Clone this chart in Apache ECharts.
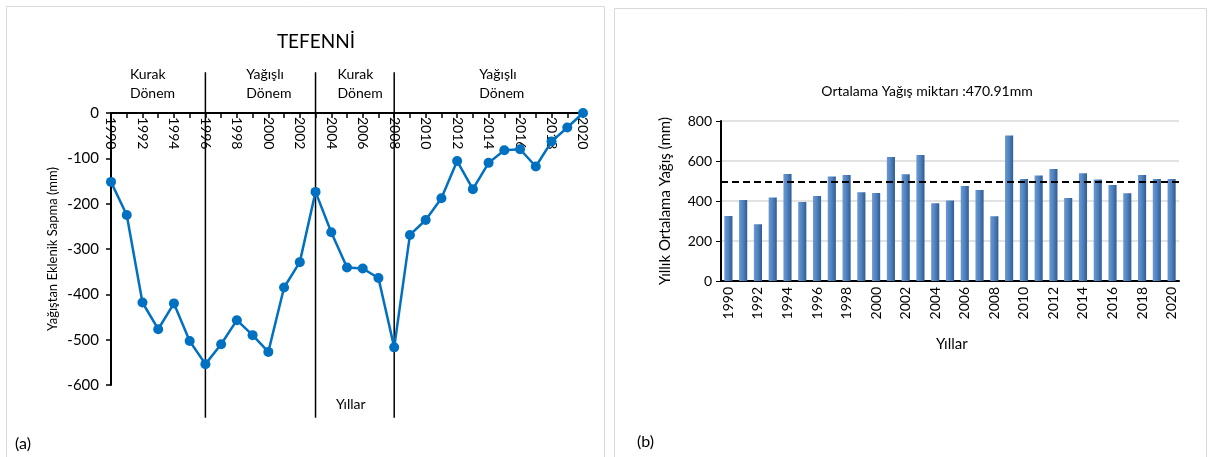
<!DOCTYPE html>
<html>
<head>
<meta charset="utf-8">
<script src="https://cdn.jsdelivr.net/npm/echarts@6/dist/echarts.min.js"></script>
<style>
html, body { margin: 0; background: #fff; }
#main { width: 1211px; height: 457px; }
</style>
</head>
<body>
<div id="main"></div>
<script>
// yillar
var years = [1990, 1991, 1992, 1993, 1994, 1995, 1996, 1997, 1998, 1999, 2000,
	2001, 2002, 2003, 2004, 2005, 2006, 2007, 2008, 2009, 2010,
	2011, 2012, 2013, 2014, 2015, 2016, 2017, 2018, 2019, 2020];
// (a) eklenik sapma (mm)
var sapma = [-152, -225, -418, -477, -420, -503, -554, -510, -457, -490, -527,
	-385, -329, -174, -263, -341, -343, -364, -517, -269, -236,
	-188, -106, -168, -110, -82, -80, -118, -63, -32, 0];
// (b) yillik ortalama yagis (mm)
var yagis = [325, 405, 284, 417, 535, 395, 425, 522, 530, 444, 440,
	620, 534, 630, 389, 402, 475, 455, 324, 727, 510,
	527, 560, 415, 539, 507, 480, 439, 530, 510, 510];
var ortalama = 498;
// donem sinirlari ve etiketleri
var sinirlar = [1996, 2003, 2008];
var donemler = ['Kurak\nDönem', 'Yağışlı\nDönem', 'Kurak\nDönem', 'Yağışlı\nDönem'];
var donemBas = [1991.2, 1998.6, 2004.4, 2013.4];

var font = 'Lato, "Open Sans", sans-serif';
var chart = echarts.init(document.getElementById('main'));

var sapmaData = years.map(function (y, i) { return [y, sapma[i]]; });
var yilLabels = years.map(function (y) { return String(y); });

function baslik(text, left, top, size, align) {
	return {
		text: text, left: left, top: top, textAlign: align || 'left',
		textStyle: { fontSize: size, fontWeight: 'normal', color: '#000', fontFamily: font }
	};
}

option = {
	backgroundColor: '#fff',
	textStyle: { fontFamily: font },
	title: [
		baslik('TEFENNİ', 311, 27, 19, 'center'),
		baslik('Ortalama Yağış miktarı :470.91mm', 922, 79, 14, 'center'),
		baslik('Yıllar', 331, 392, 14),
		baslik('Yıllar', 931, 332, 15),
		baslik('(a)', 10, 431, 16),
		baslik('(b)', 632, 429, 16)
	],
	graphic: [
		{ type: 'rect', shape: { x: 6.5, y: 6.5, width: 598, height: 460 },
			style: { fill: 'none', stroke: '#d9d9d9', lineWidth: 1 }, silent: true },
		{ type: 'rect', shape: { x: 614.5, y: 8.5, width: 592, height: 460 },
			style: { fill: 'none', stroke: '#d9d9d9', lineWidth: 1 }, silent: true }
	],
	grid: [
		{ left: 111, top: 113, width: 472, height: 272 },
		{ left: 721, top: 121, width: 458, height: 160 }
	],
	xAxis: [
		{
			gridIndex: 0, type: 'value', min: 1990, max: 2020, interval: 2,
			position: 'top',
			axisLine: { onZero: false, lineStyle: { color: '#000', width: 2 } },
			axisTick: { inside: true, length: 5, lineStyle: { color: '#000', width: 1.5 } },
			minorTick: { show: true, splitNumber: 2, length: 5, lineStyle: { color: '#000', width: 1.5 } },
			splitLine: { show: false },
			axisLabel: { inside: true, rotate: 90, fontSize: 14, color: '#000', margin: 4,
				formatter: function (v) { return String(v); } }
		},
		{
			gridIndex: 1, type: 'category', data: yilLabels,
			axisLine: { lineStyle: { color: '#000', width: 2 } },
			axisTick: { interval: 0, length: 5, lineStyle: { color: '#000' } },
			axisLabel: { interval: 1, rotate: 90, fontSize: 14, color: '#000', margin: 6 }
		}
	],
	yAxis: [
		{
			gridIndex: 0, type: 'value', min: -600, max: 0, interval: 100,
			name: 'Yağıştan Eklenik Sapma (mm)', nameLocation: 'middle', nameGap: 52,
			nameTextStyle: { fontSize: 13, color: '#000' },
			axisLine: { show: true, lineStyle: { color: '#000', width: 2 } },
			axisTick: { show: true, length: 5, lineStyle: { color: '#000', width: 1.5 } },
			splitLine: { show: false },
			axisLabel: { fontSize: 15, color: '#000', margin: 12 }
		},
		{
			gridIndex: 1, type: 'value', min: 0, max: 800, interval: 200,
			name: 'Yıllık Ortalama Yağış (mm)', nameLocation: 'middle', nameGap: 48,
			nameTextStyle: { fontSize: 15, color: '#000' },
			axisLine: { show: true, lineStyle: { color: '#000', width: 2 } },
			axisTick: { show: true, length: 5, lineStyle: { color: '#000' } },
			splitLine: { show: true, lineStyle: { color: '#d9d9d9', width: 1.5 } },
			axisLabel: { fontSize: 14, color: '#000', margin: 9 }
		}
	],
	series: [
		{
			type: 'line', xAxisIndex: 0, yAxisIndex: 0,
			data: sapmaData,
			symbol: 'circle', symbolSize: 10,
			lineStyle: { color: '#0070c0', width: 2.5 },
			itemStyle: { color: '#0070c0' },
			clip: false, z: 5
		},
		{
			// donem sinir cizgileri
			type: 'custom', xAxisIndex: 0, yAxisIndex: 0,
			data: sinirlar.map(function (x) { return [x]; }),
			clip: false, silent: true,
			renderItem: function (params, api) {
				var ust = api.coord([api.value(0), 90]);
				var alt = api.coord([api.value(0), -672]);
				return {
					type: 'line',
					shape: { x1: ust[0], y1: ust[1], x2: alt[0], y2: alt[1] },
					style: { stroke: '#000', lineWidth: 1.5 }
				};
			}
		},
		{
			// donem etiketleri
			type: 'custom', xAxisIndex: 0, yAxisIndex: 0,
			data: donemBas.map(function (x, i) { return [x, i]; }),
			clip: false, silent: true,
			renderItem: function (params, api) {
				var p = api.coord([api.value(0), 63]);
				return {
					type: 'text', x: p[0], y: p[1],
					style: {
						text: donemler[api.value(1)], fill: '#000',
						fontSize: 14, fontFamily: font,
						align: 'left', verticalAlign: 'middle', lineHeight: 19
					}
				};
			}
		},
		{
			type: 'bar', xAxisIndex: 1, yAxisIndex: 1,
			data: yagis, barWidth: '55%',
			itemStyle: {
				color: new echarts.graphic.LinearGradient(0, 0, 1, 0, [
					{ offset: 0, color: '#6b9ad6' },
					{ offset: 0.5, color: '#4f81bd' },
					{ offset: 1, color: '#2f5b91' }
				])
			},
			markLine: {
				silent: true, symbol: 'none', label: { show: false },
				lineStyle: { color: '#000', type: [7, 4], width: 2 },
				data: [{ yAxis: ortalama }]
			}
		}
	]
};

chart.setOption(option);
</script>
</body>
</html>
